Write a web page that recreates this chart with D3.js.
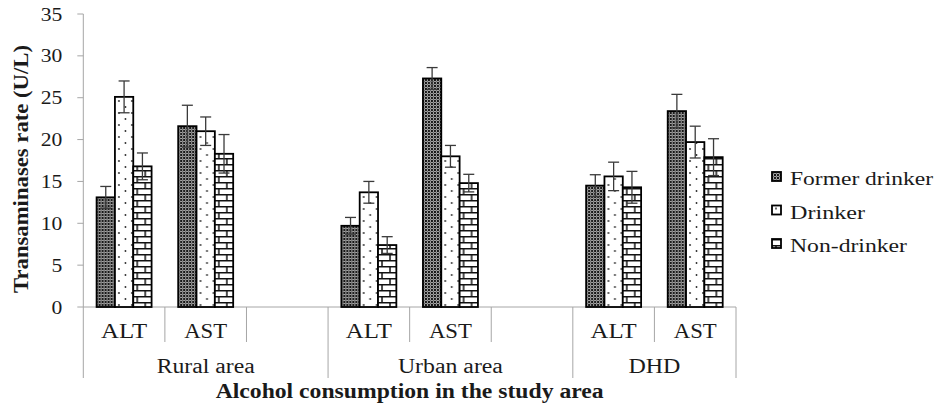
<!DOCTYPE html>
<html>
<head>
<meta charset="utf-8">
<script src="https://cdn.jsdelivr.net/npm/d3@7"></script>
<style>
  html, body { margin: 0; padding: 0; background: #fff; }
  svg text { font-family: "Liberation Serif", "Times New Roman", serif; fill: #1a1a1a; }
</style>
</head>
<body>
<svg id="chart" width="940" height="406"></svg>
<script>
// ---- data ----
const catLabels = ['ALT', 'AST', '', 'ALT', 'AST', '', 'ALT', 'AST'];
const catGroups = ['Rural area', 'Rural area', 'Rural area', 'Urban area', 'Urban area', 'Urban area', 'DHD', 'DHD'];
const groupNames = ['Rural area', 'Urban area', 'DHD'];
const seriesNames = ['Former drinker', 'Drinker', 'Non-drinker'];

const formerVals = [13.1, 21.6, null, 9.7, 27.3, null, 14.5, 23.4];
const formerErr = [1.3, 2.5, null, 1.0, 1.3, null, 1.3, 2.0];
const drinkerVals = [25.1, 21.0, null, 13.7, 18.0, null, 15.6, 19.7];
const drinkerErr = [1.9, 1.7, null, 1.3, 1.3, null, 1.7, 1.9];
const nonVals = [16.8, 18.3, null, 7.4, 14.8, null, 14.3, 17.9];
const nonErr = [1.6, 2.3, null, 1.0, 1.05, null, 1.9, 2.2];

const yTicks = [0, 5, 10, 15, 20, 25, 30, 35];

const seriesVals = [formerVals, drinkerVals, nonVals];
const seriesErr = [formerErr, drinkerErr, nonErr];
const patternIds = ['pat-former', 'pat-drinker', 'pat-non'];

// ---- layout ----
const margin = { top: 14, left: 83.3, right: 204, bottom: 99 };
const plotW = 940 - margin.left - margin.right;
const plotH = 406 - margin.top - margin.bottom;
const axisColor = '#a6a6a6';

const svg = d3.select('#chart');
const defs = svg.append('defs');

// Former drinker: dark fill with light lattice rings
const pf = defs.append('pattern').attr('id', 'pat-former')
  .attr('patternUnits', 'userSpaceOnUse').attr('width', 6).attr('height', 6);
pf.append('rect').attr('width', 6).attr('height', 6).attr('fill', '#161616');
[[0, 0], [6, 0], [0, 6], [6, 6], [3, 3]].forEach(([cx, cy]) => {
  pf.append('circle').attr('cx', cx).attr('cy', cy).attr('r', 1.7)
    .attr('fill', 'none').attr('stroke', '#b5b5b5').attr('stroke-width', 0.9);
});

// Drinker: white with sparse dots
const pd = defs.append('pattern').attr('id', 'pat-drinker')
  .attr('patternUnits', 'userSpaceOnUse').attr('width', 13).attr('height', 12);
pd.append('rect').attr('width', 13).attr('height', 12).attr('fill', '#fff');
pd.append('circle').attr('cx', 4).attr('cy', 3).attr('r', 0.9).attr('fill', '#222');
pd.append('circle').attr('cx', 10.5).attr('cy', 9).attr('r', 0.9).attr('fill', '#222');

// Non-drinker: bricks
const pn = defs.append('pattern').attr('id', 'pat-non')
  .attr('patternUnits', 'userSpaceOnUse').attr('width', 18).attr('height', 12);
pn.append('rect').attr('width', 18).attr('height', 12).attr('fill', '#fff');
pn.append('path')
  .attr('d', 'M0,0.7H18M0,6.7H18M12,0.7V6.7M4,6.7V12.7')
  .attr('stroke', '#111').attr('stroke-width', 1.5).attr('fill', 'none');

const g = svg.append('g').attr('transform', `translate(${margin.left},${margin.top})`);

// ---- scales ----
const x = d3.scaleBand().domain(d3.range(catLabels.length)).range([0, plotW]).padding(0);
const bw = x.bandwidth();
const xs = d3.scaleBand().domain(seriesNames).range([bw * 0.163, bw * 0.837]).padding(0);
const y = d3.scaleLinear().domain([0, 35]).range([plotH, 0]);

// stretch text to the measured width (the source image is wide-set)
function fit(sel, w) {
  sel.attr('textLength', w).attr('lengthAdjust', 'spacingAndGlyphs');
}

// ---- y axis ----
g.append('line').attr('x1', 0).attr('x2', 0).attr('y1', y(35)).attr('y2', y(0))
  .attr('stroke', axisColor).attr('stroke-width', 1);
yTicks.forEach(t => {
  g.append('line').attr('x1', -6).attr('x2', 0).attr('y1', y(t)).attr('y2', y(t))
    .attr('stroke', axisColor).attr('stroke-width', 1);
  const txt = g.append('text').attr('x', -21).attr('y', y(t) + 6.5)
    .attr('text-anchor', 'end').attr('font-size', 18).text(t);
  fit(txt, String(t).length * 10.8);
});

// ---- x axis + category separators ----
g.append('line').attr('x1', 0).attr('x2', plotW).attr('y1', y(0)).attr('y2', y(0))
  .attr('stroke', axisColor).attr('stroke-width', 1);
for (let i = 0; i <= catLabels.length; i++) {
  const xp = i < catLabels.length ? x(i) : plotW;
  const groupEdge = i === 0 || i === catLabels.length || catGroups[i] !== catGroups[i - 1];
  g.append('line').attr('x1', xp).attr('x2', xp)
    .attr('y1', y(0)).attr('y2', y(0) + (groupEdge ? 71 : 35))
    .attr('stroke', axisColor).attr('stroke-width', 1);
}
catLabels.forEach((lab, i) => {
  if (!lab) return;
  const txt = g.append('text').attr('x', x(i) + bw / 2).attr('y', y(0) + 31)
    .attr('text-anchor', 'middle').attr('font-size', 20).text(lab);
  fit(txt, lab === 'ALT' ? 46 : 43);
});
const groupWidths = { 'Rural area': 98, 'Urban area': 105, 'DHD': 52 };
groupNames.forEach(name => {
  const idx = catGroups.map((c, i) => c === name ? i : -1).filter(i => i >= 0);
  const x0 = x(idx[0]);
  const x1 = idx[idx.length - 1] === catLabels.length - 1 ? plotW : x(idx[idx.length - 1] + 1);
  const txt = g.append('text').attr('x', (x0 + x1) / 2).attr('y', y(0) + 66)
    .attr('text-anchor', 'middle').attr('font-size', 20).text(name);
  fit(txt, groupWidths[name]);
});

// ---- bars ----
seriesNames.forEach((s, si) => {
  seriesVals[si].forEach((v, i) => {
    if (v == null) return;
    const bx = x(i) + xs(s);
    const bar = g.append('g').attr('transform', `translate(${bx},0)`);
    bar.append('rect')
      .attr('x', 0).attr('y', y(v))
      .attr('width', xs.bandwidth()).attr('height', y(0) - y(v))
      .attr('fill', `url(#${patternIds[si]})`)
      .attr('stroke', '#000').attr('stroke-width', 1.8);
  });
});

// ---- error bars ----
seriesNames.forEach((s, si) => {
  seriesVals[si].forEach((v, i) => {
    if (v == null) return;
    const e = seriesErr[si][i];
    const cx = x(i) + xs(s) + xs.bandwidth() / 2;
    const eb = g.append('g').attr('stroke', '#3a3a3a').attr('stroke-width', 1.3).attr('fill', 'none');
    eb.append('line').attr('x1', cx).attr('x2', cx).attr('y1', y(v + e)).attr('y2', y(v - e));
    eb.append('line').attr('x1', cx - 5.5).attr('x2', cx + 5.5).attr('y1', y(v + e)).attr('y2', y(v + e));
    eb.append('line').attr('x1', cx - 5.5).attr('x2', cx + 5.5).attr('y1', y(v - e)).attr('y2', y(v - e));
  });
});

// ---- axis titles ----
const xt = svg.append('text').attr('x', margin.left + plotW / 2).attr('y', 398)
  .attr('text-anchor', 'middle').attr('font-size', 20).attr('font-weight', 'bold')
  .text('Alcohol consumption in the study area');
fit(xt, 388);
const yt = svg.append('text')
  .attr('transform', `translate(28,169) rotate(-90)`)
  .attr('text-anchor', 'middle').attr('font-size', 21).attr('font-weight', 'bold')
  .text('Transaminases rate (U/L)');
fit(yt, 248);

// ---- legend ----
const legendWidths = [143, 75, 117];
const legend = svg.append('g').attr('transform', 'translate(772,172)');
seriesNames.forEach((s, i) => {
  const row = legend.append('g').attr('transform', `translate(0,${i * 33.5})`);
  row.append('g').attr('transform', 'translate(0,0)')
    .append('rect').attr('width', 9).attr('height', 9)
    .attr('fill', `url(#${patternIds[i]})`)
    .attr('stroke', '#000').attr('stroke-width', 1.8);
  const txt = row.append('text').attr('x', 18).attr('y', 13)
    .attr('font-size', 19).text(s);
  fit(txt, legendWidths[i]);
});
</script>
</body>
</html>
